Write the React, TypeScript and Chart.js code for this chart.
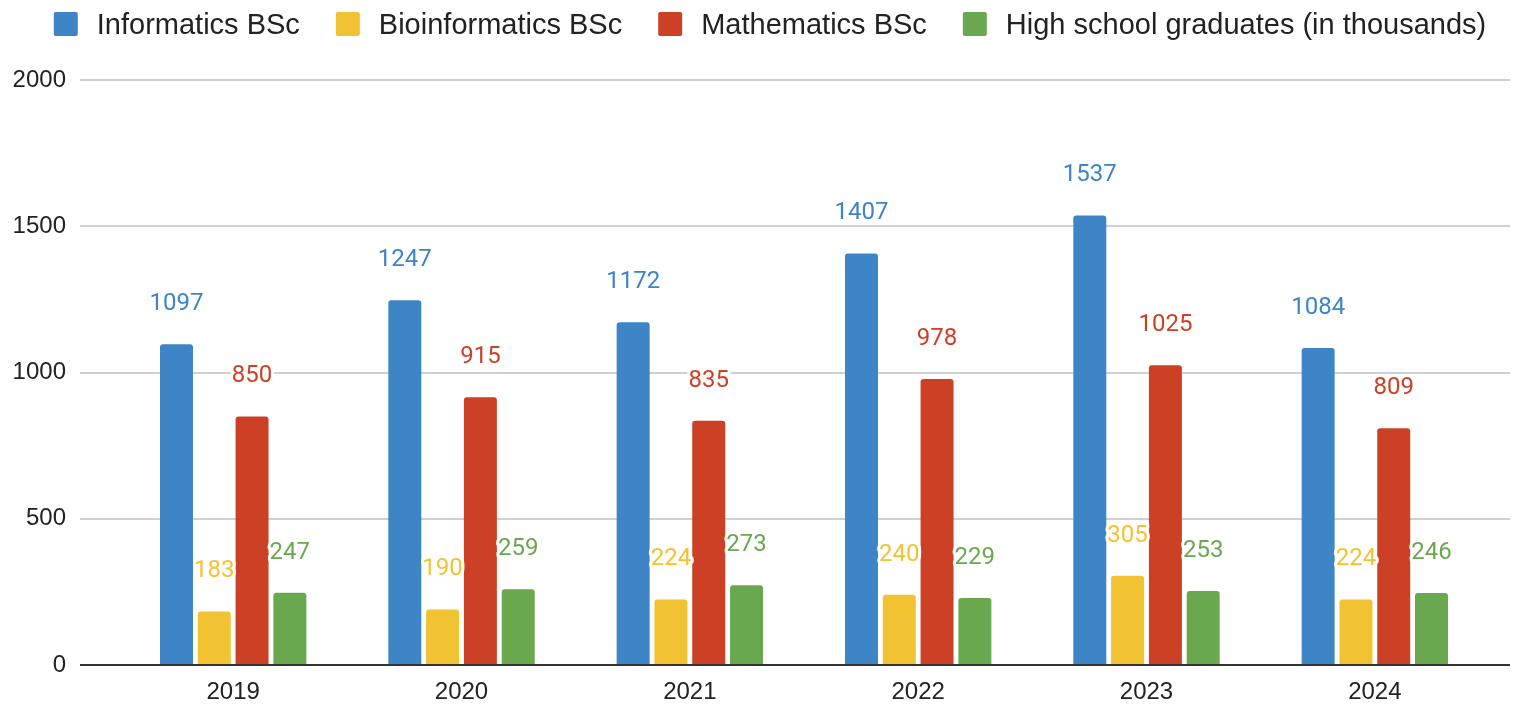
import React, { useEffect, useRef } from "react";
import { Chart, registerables } from "chart.js";

Chart.register(...registerables);

const categories = ["2019", "2020", "2021", "2022", "2023", "2024"];
const informatics = [1097, 1247, 1172, 1407, 1537, 1084];
const bioinformatics = [183, 190, 224, 240, 305, 224];
const mathematics = [850, 915, 835, 978, 1025, 809];
const graduates = [247, 259, 273, 229, 253, 246];
const seriesNames = [
  "Informatics BSc",
  "Bioinformatics BSc",
  "Mathematics BSc",
  "High school graduates (in thousands)",
];
const seriesColors = ["#3d85c6", "#f1c232", "#cc4125", "#6aa84f"];
const yMin = 0;
const yMax = 2000;
const yStep = 500;

const LABEL_FONT = "Roboto, 'Noto Sans', sans-serif";
const AXIS_FONT = "'Liberation Sans', Arial, sans-serif";

const gridPlugin = {
  id: "customGrid",
  beforeDatasetsDraw(chart: any) {
    const { ctx } = chart;
    const y = chart.scales.y;
    ctx.save();
    ctx.lineWidth = 2;
    ctx.strokeStyle = "#d0d0d0";
    for (const t of y.ticks) {
      if (t.value === 0) continue;
      const py = Math.round(y.getPixelForValue(t.value));
      ctx.beginPath();
      ctx.moveTo(80, py);
      ctx.lineTo(chart.width - 13, py);
      ctx.stroke();
    }
    ctx.restore();
  },
  afterDatasetsDraw(chart: any) {
    const { ctx } = chart;
    const y = chart.scales.y;
    const py = Math.round(y.getPixelForValue(0));
    ctx.save();
    ctx.lineWidth = 2;
    ctx.strokeStyle = "#333333";
    ctx.beginPath();
    ctx.moveTo(80, py);
    ctx.lineTo(chart.width - 13, py);
    ctx.stroke();
    ctx.font = `24px ${LABEL_FONT}`;
    ctx.textAlign = "center";
    ctx.textBaseline = "middle";
    ctx.lineJoin = "round";
    chart.data.datasets.forEach((ds: any, di: number) => {
      const meta = chart.getDatasetMeta(di);
      meta.data.forEach((bar: any, i: number) => {
        const text = String(ds.data[i]);
        const tx = bar.x;
        const ty = bar.y - 40;
        ctx.lineWidth = 6;
        ctx.strokeStyle = "#ffffff";
        ctx.strokeText(text, tx, ty);
        ctx.fillStyle = ds.backgroundColor;
        ctx.fillText(text, tx, ty);
      });
    });
    ctx.restore();
  },
  afterDraw(chart: any) {
    const { ctx } = chart;
    ctx.save();
    ctx.font = `29px ${AXIS_FONT}`;
    ctx.textBaseline = "alphabetic";
    ctx.textAlign = "left";
    const box = 24;
    const gapText = 19;
    const gapItem = 36;
    const widths = chart.data.datasets.map(
      (ds: any) => box + gapText + ctx.measureText(ds.label).width
    );
    const total =
      widths.reduce((a: number, b: number) => a + b, 0) +
      gapItem * (widths.length - 1);
    let x = 770 - total / 2;
    chart.data.datasets.forEach((ds: any, i: number) => {
      ctx.fillStyle = ds.backgroundColor;
      ctx.beginPath();
      (ctx as any).roundRect(x, 12, box, box, 2);
      ctx.fill();
      ctx.fillStyle = "#222222";
      ctx.fillText(ds.label, x + box + gapText, 33.5);
      x += widths[i] + gapItem;
    });
    ctx.restore();
  },
};

export default function App() {
  const ref = useRef<HTMLCanvasElement>(null);
  useEffect(() => {
    if (!ref.current) return;
    const series = [informatics, bioinformatics, mathematics, graduates];
    const chart = new Chart(ref.current, {
      type: "bar",
      data: {
        labels: categories,
        datasets: series.map((d, i) => ({
          label: seriesNames[i],
          data: d,
          backgroundColor: seriesColors[i],
          borderRadius: { topLeft: 3, topRight: 3, bottomLeft: 0, bottomRight: 0 },
          borderSkipped: "bottom",
          categoryPercentage: 0.662,
          barPercentage: 0.873,
        })),
      },
      options: {
        responsive: true,
        maintainAspectRatio: false,
        animation: false,
        layout: { padding: { top: 80, right: 34, bottom: 0, left: 0 } },
        plugins: {
          legend: { display: false },
          tooltip: { enabled: false },
          title: { display: false },
        },
        scales: {
          x: {
            grid: { display: false, drawTicks: false },
            border: { display: false },
            ticks: {
              color: "#222222",
              font: { family: AXIS_FONT, size: 24 },
              padding: 13,
            },
            afterFit(scale: any) {
              scale.height = 39;
            },
          },
          y: {
            min: yMin,
            max: yMax,
            grid: { display: false, drawTicks: false },
            border: { display: false },
            ticks: {
              stepSize: yStep,
              color: "#222222",
              font: { family: AXIS_FONT, size: 24 },
              padding: 53,
              callback: (v: any) => String(v),
            },
            afterFit(scale: any) {
              scale.width = 119;
              scale.paddingTop = 14;
              scale.paddingBottom = 14;
            },
          },
        },
      },
      plugins: [gridPlugin],
    });
    return () => chart.destroy();
  }, []);
  return (
    <div style={{ position: "absolute", left: 0, top: 0, width: 1523, height: 704, background: "#fff" }}>
      <canvas ref={ref} />
    </div>
  );
}
